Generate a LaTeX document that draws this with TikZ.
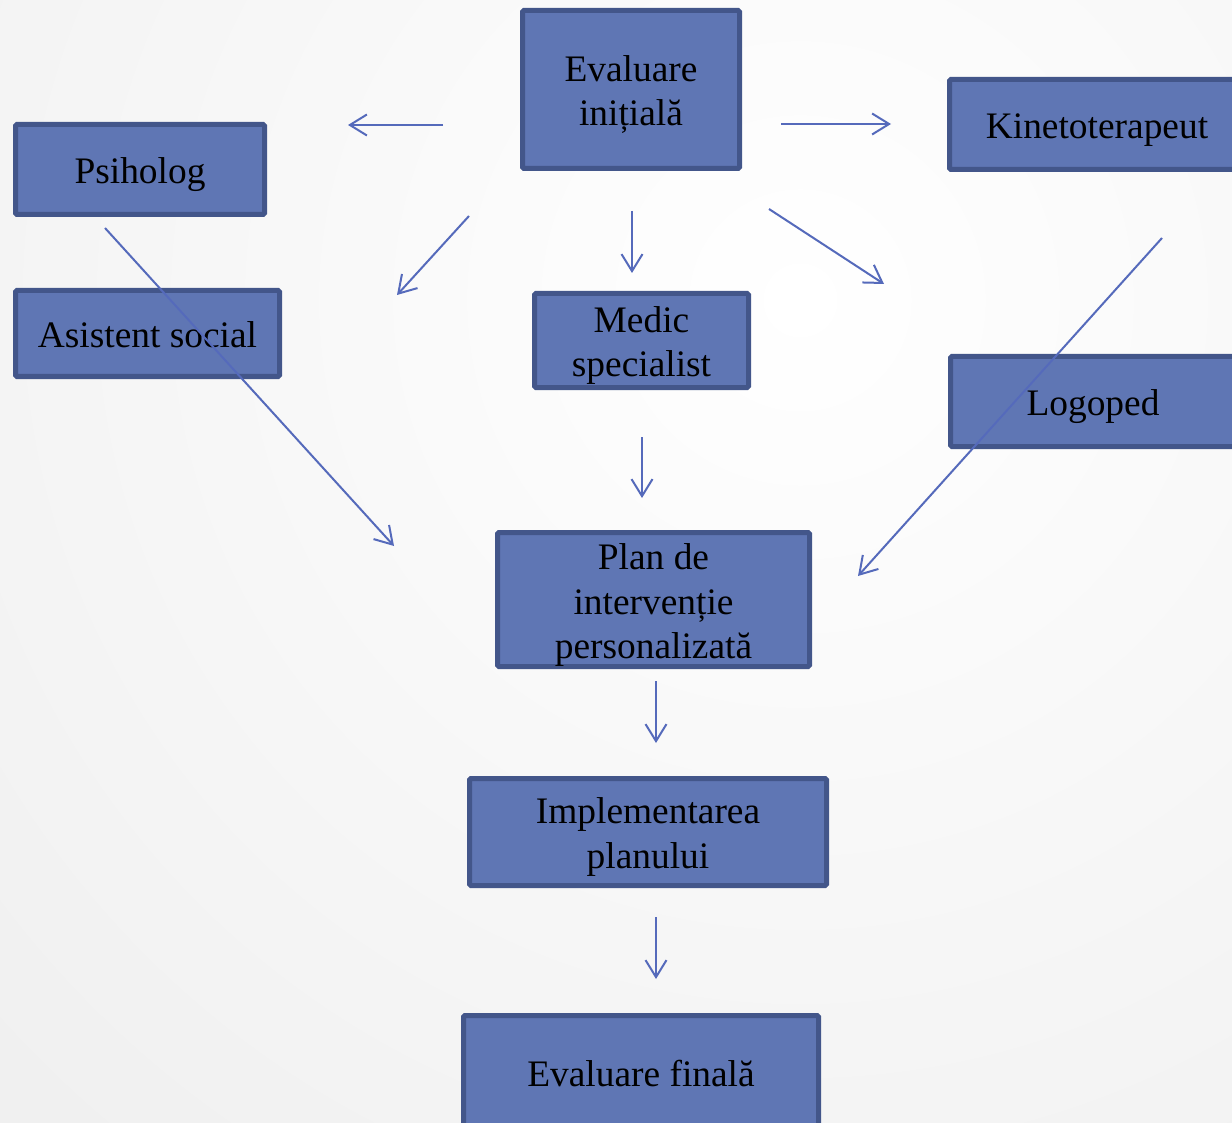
\documentclass[tikz,border=0pt]{standalone}
\usepackage{fontspec}
\setmainfont{Liberation Serif}
\usepackage{xcolor}
\definecolor{colorFill}{HTML}{5F76B4}
\definecolor{colorBorder}{HTML}{43568A}
\colorlet{colorArrow}{colorFill!90!blue}
\usetikzlibrary{arrows.meta}
\tikzset{box/.style={rectangle, draw=colorBorder, fill=colorFill, line width=5pt, rounded corners=1.5pt, align=center, inner ysep=0pt, text height=37pt, text depth=9pt, font=\fontsize{37.4}{44.5}\selectfont},
  twolines/.style={text height=81.5pt},
  threelines/.style={text height=126pt, text depth=8pt}}

\begin{document}
\begin{tikzpicture}[x=1pt, y=-1pt, >={Straight Barb[length=17pt,width=21pt]}, line width=2pt]
\useasboundingbox (0,0) rectangle (1232,1123);
\clip (0,0) rectangle (1232,1123);
\shade[inner color=white, outer color=black!9] (800,300) circle (1700);
\node[box, twolines, minimum width=217pt, minimum height=158pt] (evi) at (631,89.5) {Evaluare\\inițială};
\node[box, minimum width=249pt, minimum height=90pt] (psi) at (140,169.5) {Psiholog};
\node[box, minimum width=264pt, minimum height=86pt] (asi) at (147.5,333.5) {Asistent social};
\node[box, minimum width=295pt, minimum height=90pt] (kin) at (1097,124.5) {Kinetoterapeut};
\node[box, twolines, minimum width=214pt, minimum height=94pt] (med) at (641.5,340.5) {Medic\\specialist};
\node[box, minimum width=285pt, minimum height=90pt] (log) at (1093,401.5) {Logoped};
\node[box, threelines, minimum width=312pt, minimum height=134pt] (pla) at (653.5,599.5) {Plan de\\intervenție\\personalizată};
\node[box, twolines, minimum width=357pt, minimum height=107pt] (imp) at (648,832) {Implementarea\\planului};
\node[box, minimum width=355pt, minimum height=113pt] (fin) at (641,1072) {Evaluare finală};
% ends of the arrows
\coordinate (eviL1) at (443,125); \coordinate (eviL2) at (348,125);
\coordinate (eviR1) at (781,124); \coordinate (eviR2) at (891,124);
\coordinate (eviA1) at (469,216); \coordinate (eviA2) at (397,295);
\coordinate (eviM1) at (632,211); \coordinate (eviM2) at (632,273);
\coordinate (eviG1) at (769,209); \coordinate (eviG2) at (884,284);
\coordinate (psiP1) at (105,228); \coordinate (psiP2) at (394,546);
\coordinate (kinP1) at (1162,238); \coordinate (kinP2) at (858,576);
\coordinate (medP1) at (642,437); \coordinate (medP2) at (642,498);
\coordinate (plaI1) at (656,681); \coordinate (plaI2) at (656,743);
\coordinate (impF1) at (656,917); \coordinate (impF2) at (656,979);
\draw [->, colorArrow] (eviL1) -- (eviL2);
\draw [->, colorArrow] (eviR1) -- (eviR2);
\draw [->, colorArrow] (eviA1) -- (eviA2);
\draw [->, colorArrow] (eviM1) -- (eviM2);
\draw [->, colorArrow] (eviG1) -- (eviG2);
\draw [->, colorArrow] (psiP1) -- (psiP2);
\draw [->, colorArrow] (kinP1) -- (kinP2);
\draw [->, colorArrow] (medP1) -- (medP2);
\draw [->, colorArrow] (plaI1) -- (plaI2);
\draw [->, colorArrow] (impF1) -- (impF2);
\end{tikzpicture}
\end{document}
